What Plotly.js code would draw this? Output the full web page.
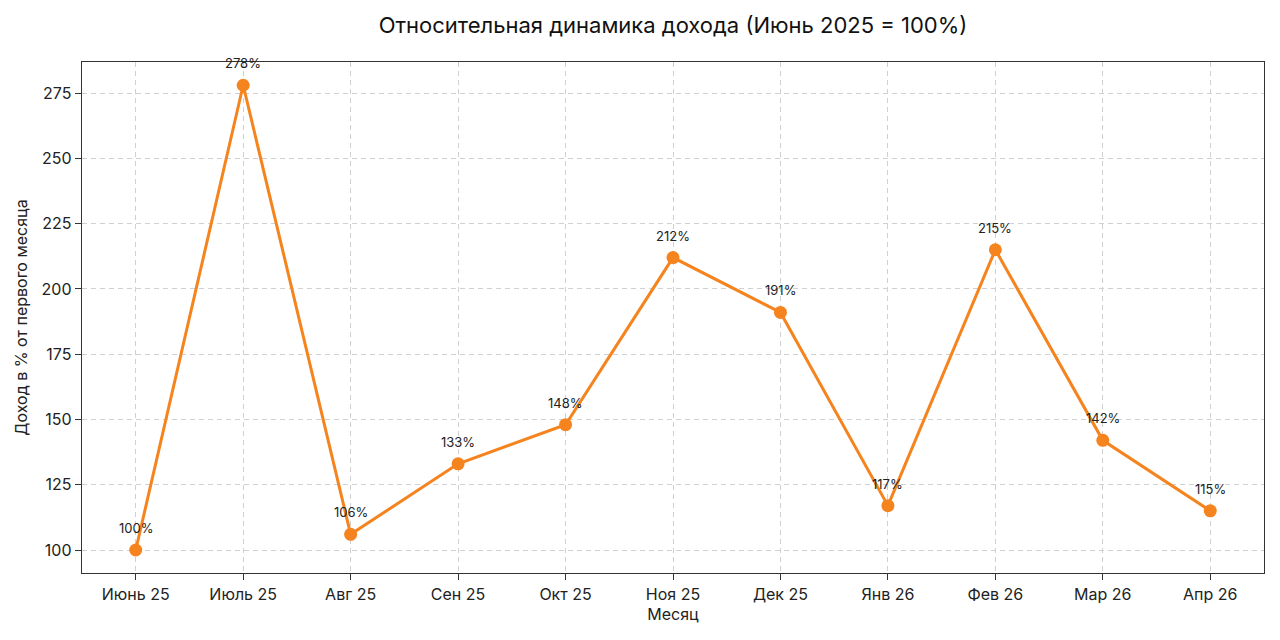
<!DOCTYPE html>
<html>
<head>
<meta charset="utf-8">
<script src="https://cdn.plot.ly/plotly-3.0.1.min.js"></script>
<style>
  html, body { margin: 0; padding: 0; background: #fff; }
  #chart { width: 1280px; height: 640px; }
</style>
</head>
<body>
<div id="chart"></div>
<script>
// data
const months = ['Июнь 25', 'Июль 25', 'Авг 25', 'Сен 25', 'Окт 25', 'Ноя 25', 'Дек 25', 'Янв 26', 'Фев 26', 'Мар 26', 'Апр 26'];
const incomePct = [100, 278, 106, 133, 148, 212, 191, 117, 215, 142, 115];
const yTicks = [100, 125, 150, 175, 200, 225, 250, 275];

const lineColor = '#f5841f';
const fontFamily = 'Inter, "Open Sans", sans-serif';

const xIdx = months.map((_, i) => i);

const trace = {
  x: xIdx,
  y: incomePct,
  mode: 'lines+markers',
  line: { color: lineColor, width: 3 },
  marker: { color: lineColor, size: 13 },
  hoverinfo: 'skip',
};

// percentage labels above each point
const labels = incomePct.map((v, i) => ({
  x: xIdx[i],
  y: v,
  text: v + '%',
  showarrow: false,
  yshift: 22,
  font: { family: fontFamily, size: 13, color: '#222' },
}));

const gridDash = '5px,4px';

const layout = {
  width: 1280,
  height: 640,
  margin: { l: 82, r: 16, t: 62, b: 67, pad: 0 },
  paper_bgcolor: '#fff',
  plot_bgcolor: '#fff',
  font: { family: fontFamily, color: '#222' },
  showlegend: false,
  title: {
    text: 'Относительная динамика дохода (Июнь 2025 = 100%)',
    x: 0.5,
    xref: 'paper',
    y: 0.96,
    yanchor: 'middle',
    font: { family: fontFamily, size: 22, color: '#111' },
  },
  xaxis: {
    range: [-0.5, 10.5],
    tickmode: 'array',
    tickvals: xIdx,
    ticktext: months,
    ticks: 'outside',
    ticklen: 6,
    tickcolor: '#333',
    tickfont: { size: 16, color: '#222' },
    showline: true,
    linecolor: '#333',
    linewidth: 1.3,
    mirror: true,
    showgrid: true,
    gridcolor: '#d0d0d0',
    griddash: gridDash,
    gridwidth: 1,
    zeroline: false,
    title: { text: 'Месяц', standoff: 6, font: { size: 16, color: '#222' } },
  },
  yaxis: {
    range: [91.2, 286.9],
    tickmode: 'array',
    tickvals: yTicks,
    ticks: 'outside',
    ticklen: 6,
    tickcolor: '#333',
    tickfont: { size: 16, color: '#222' },
    showline: true,
    linecolor: '#333',
    linewidth: 1.3,
    mirror: true,
    showgrid: true,
    gridcolor: '#d0d0d0',
    griddash: gridDash,
    gridwidth: 1,
    zeroline: false,
    title: { text: 'Доход в % от первого месяца', standoff: 10, font: { size: 16, color: '#222' } },
  },
  annotations: labels,
};

Plotly.newPlot('chart', [trace], layout, { staticPlot: true, displayModeBar: false });
</script>
</body>
</html>
